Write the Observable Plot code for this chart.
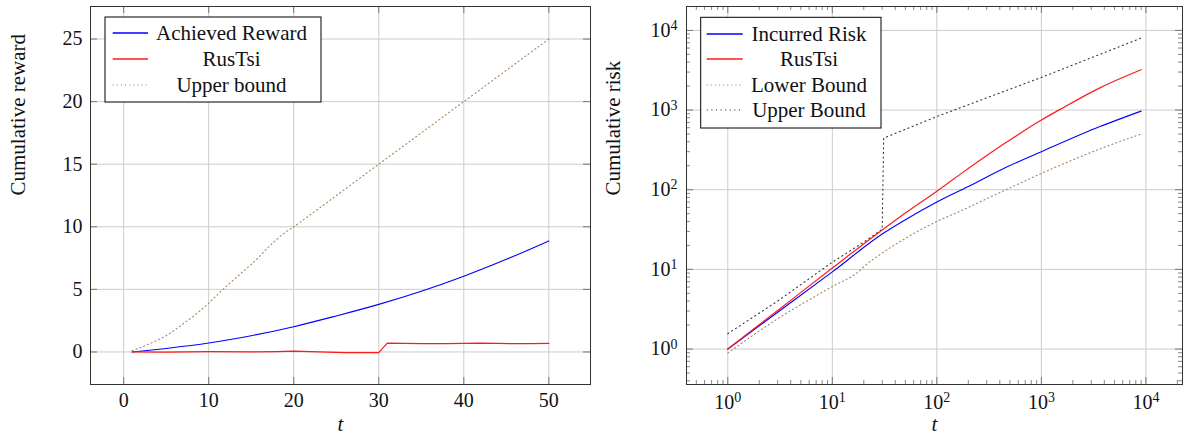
<!DOCTYPE html>
<html><head><meta charset="utf-8">
<script src="https://cdn.jsdelivr.net/npm/d3@7"></script>
<script src="https://cdn.jsdelivr.net/npm/@observablehq/plot@0.6"></script>
<style>
body{margin:0;background:#fff;}
#wrap{display:flex;width:1184px;height:439px;overflow:hidden;}
#wrap svg{display:block;flex:none;}
</style></head><body><div id="wrap"></div>
<script>
// ---------- Left panel: cumulative reward ----------
const achievedT      = [1, 5, 10, 15, 20, 25, 30, 35, 40, 45, 50];
const achievedReward = [0, 0.28, 0.71, 1.3, 2.02, 2.88, 3.8, 4.85, 6.05, 7.4, 8.87];

const rusTsiRewardT = [1, 5, 10, 15, 18, 20, 22, 24, 26, 28, 30, 31, 33, 35, 38, 40, 42, 44, 46, 48, 50];
const rusTsiReward  = [0, -0.01, 0.02, 0.0, 0.02, 0.06, 0.02, -0.02, -0.06, -0.05, -0.06, 0.7, 0.68, 0.66, 0.66, 0.69, 0.71, 0.68, 0.66, 0.67, 0.68];

const upperRewardT = [1, 2, 3, 4, 5, 6, 7, 8, 9, 10, 11, 12, 13, 14, 15, 16, 17, 18, 19, 20, 30, 40, 50];
const upperReward  = [0.1, 0.35, 0.65, 0.95, 1.3, 1.75, 2.25, 2.75, 3.3, 3.9, 4.55, 5.2, 5.8, 6.4, 7.0, 7.65, 8.35, 9.0, 9.55, 10.0, 15.0, 20.0, 25.0];

const leftXTicks = [0, 10, 20, 30, 40, 50];
const leftYTicks = [0, 5, 10, 15, 20, 25];
const leftLegend = ["Achieved Reward", "RusTsi", "Upper bound"];

// ---------- Right panel: cumulative risk (log-log) ----------
const incurredT    = [1, 3, 10, 30, 50, 100, 200, 436, 1000, 3630, 9000];
const incurredRisk = [1, 2.9, 9.3, 27.8, 42, 70, 110, 185, 300, 620, 970];

const rusTsiRiskT = [1, 3, 10, 30, 50, 100, 168, 436, 1000, 1510, 3630, 9000];
const rusTsiRisk  = [1, 3.05, 10.4, 31.2, 51, 96, 157, 374, 750, 1020, 1900, 3200];

const lowerT    = [1, 3, 10, 18, 20, 30, 50, 100, 168, 436, 1000, 3630, 9000];
const lowerRisk = [0.89, 2.4, 6.1, 9.5, 10.8, 16, 24.5, 40, 54, 97, 160, 325, 500];

const upperRiskT = [1, 3, 10, 20, 30, 31, 100, 1000, 9000];
const upperRisk  = [1.56, 4.0, 12.3, 22, 32, 444, 830, 2570, 8000];

const rightXTicks = [1, 10, 100, 1000, 10000];
const rightYTicks = [1, 10, 100, 1000, 10000];
const rightTickLabels = ["10^0", "10^1", "10^2", "10^3", "10^4"];
const rightLegend = ["Incurred Risk", "RusTsi", "Lower Bound", "Upper Bound"];

// ---------- styling ----------
const FONT = "'Liberation Serif', 'DejaVu Serif', serif";
const STYLE = `font-family: ${FONT}; font-size: 20px; background: white; color: #111;`;
const BLUE = "#0000ff", RED = "#ff1a1a", BROWN = "#a8835f", DARK = "#333333", GRID = "#cccccc";
const W = 592, H = 439, MT = 6, MB = 55;
const toRows = (T, V) => T.map((t, i) => ({t, v: V[i]}));

function minorTicks(lo, hi) {
  const out = [];
  for (let e = -1; e <= 4; e++) for (let m = 2; m <= 9; m++) {
    const v = m * Math.pow(10, e);
    if (v > lo && v < hi) out.push(v);
  }
  return out;
}

function tickMarks(xs, ys, fw, fh, len, stroke) {
  return [
    Plot.ruleX(xs, {insetTop: fh - len, stroke}),
    Plot.ruleX(xs, {insetBottom: fh - len, stroke}),
    Plot.ruleY(ys, {insetRight: fw - len, stroke}),
    Plot.ruleY(ys, {insetLeft: fw - len, stroke})
  ];
}

function legend(svg, box, labels, styles) {
  const g = d3.select(svg).append("g").attr("font-family", FONT).attr("font-size", 21);
  g.append("rect").attr("x", box.x).attr("y", box.y).attr("width", box.w).attr("height", box.h)
    .attr("fill", "white").attr("stroke", "black").attr("stroke-width", 1);
  labels.forEach((lab, i) => {
    const y = Math.floor(box.y + box.first + i * box.step);
    const ln = g.append("line").attr("x1", box.lx1).attr("x2", box.lx2).attr("y1", y).attr("y2", y)
      .attr("stroke", styles[i].stroke).attr("stroke-width", styles[i].dash ? 1.2 : 1.7);
    if (styles[i].dash) ln.attr("stroke-dasharray", styles[i].dash);
    g.append("text").attr("x", box.tx).attr("y", y + 7).attr("text-anchor", "middle")
      .attr("fill", "#111").text(lab);
  });
}

function superscripts(svg) {
  d3.select(svg).selectAll("text").each(function () {
    const m = /^10\^(-?\d+)$/.exec(this.textContent);
    if (m) {
      const el = d3.select(this);
      el.text("10");
      el.append("tspan").attr("dy", "-0.48em").attr("font-size", "0.7em").text(m[1]);
    }
  });
}

// ---------- left plot ----------
const LML = 90, LMR = 2;
const LFW = W - LML - LMR, LFH = H - MT - MB;
const left = Plot.plot({
  width: W, height: H,
  marginLeft: LML, marginRight: LMR, marginTop: MT, marginBottom: MB,
  style: STYLE,
  x: {domain: [-3.9, 54.9], label: null},
  y: {domain: [-2.6, 27.6], label: null},
  marks: [
    Plot.gridX(leftXTicks, {stroke: GRID, strokeOpacity: 1}),
    Plot.gridY(leftYTicks, {stroke: GRID, strokeOpacity: 1}),
    ...tickMarks(leftXTicks, leftYTicks, LFW, LFH, 7, "#777"),
    Plot.axisX(leftXTicks, {tickSize: 0, tickPadding: 8, label: null, fontSize: 20}),
    Plot.axisY(leftYTicks, {tickSize: 0, tickPadding: 8, label: null, fontSize: 20}),
    Plot.line(toRows(upperRewardT, upperReward), {x: "t", y: "v", stroke: BROWN, strokeWidth: 1.1, strokeDasharray: "1.1,3", curve: "catmull-rom"}),
    Plot.line(toRows(achievedT, achievedReward), {x: "t", y: "v", stroke: BLUE, strokeWidth: 1.1, curve: "catmull-rom"}),
    Plot.line(toRows(rusTsiRewardT, rusTsiReward), {x: "t", y: "v", stroke: RED, strokeWidth: 1.2}),
    Plot.frame({stroke: DARK, strokeWidth: 1}),
    Plot.text(["Cumulative reward"], {frameAnchor: "left", rotate: -90, dx: -72, fontSize: 21, fill: "#111"}),
    Plot.text(["t"], {frameAnchor: "bottom", dy: 46, fontSize: 21, fontStyle: "italic", fill: "#111"})
  ]
});
legend(left, {x: 105, y: 17, w: 216, h: 85, first: 16.3, step: 26.2, lx1: 112.7, lx2: 148, tx: 231.5},
  leftLegend, [{stroke: BLUE}, {stroke: RED}, {stroke: BROWN, dash: "1.1,3"}]);

// ---------- right plot ----------
const RML = 94, RMR = 2;
const RFW = W - RML - RMR, RFH = H - MT - MB;
const xDom = [Math.pow(10, -0.395), Math.pow(10, 4.35)];
const yDom = [Math.pow(10, -0.445), Math.pow(10, 4.3)];
const fmt = d => rightTickLabels[rightXTicks.indexOf(d)];
const right = Plot.plot({
  width: W, height: H,
  marginLeft: RML, marginRight: RMR, marginTop: MT, marginBottom: MB,
  style: STYLE,
  x: {type: "log", domain: xDom, label: null},
  y: {type: "log", domain: yDom, label: null},
  marks: [
    Plot.gridX(rightXTicks, {stroke: GRID, strokeOpacity: 1}),
    Plot.gridY(rightYTicks, {stroke: GRID, strokeOpacity: 1}),
    ...tickMarks(rightXTicks, rightYTicks, RFW, RFH, 7, "#777"),
    ...tickMarks(minorTicks(xDom[0], xDom[1]), minorTicks(yDom[0], yDom[1]), RFW, RFH, 4, "#888"),
    Plot.axisX(rightXTicks, {tickSize: 0, tickPadding: 10, tickFormat: fmt, label: null, fontSize: 20}),
    Plot.axisY(rightYTicks, {tickSize: 0, tickPadding: 9, tickFormat: fmt, label: null, fontSize: 20}),
    Plot.line(toRows(lowerT, lowerRisk), {x: "t", y: "v", stroke: BROWN, strokeWidth: 1.1, strokeDasharray: "1.1,3", curve: "monotone-x"}),
    Plot.line(toRows(upperRiskT, upperRisk), {x: "t", y: "v", stroke: DARK, strokeWidth: 1.1, strokeDasharray: "1.1,3.5"}),
    Plot.line(toRows(incurredT, incurredRisk), {x: "t", y: "v", stroke: BLUE, strokeWidth: 1.1, curve: "monotone-x"}),
    Plot.line(toRows(rusTsiRiskT, rusTsiRisk), {x: "t", y: "v", stroke: RED, strokeWidth: 1.2, curve: "monotone-x"}),
    Plot.frame({stroke: DARK, strokeWidth: 1}),
    Plot.text(["Cumulative risk"], {frameAnchor: "left", rotate: -90, dx: -73, fontSize: 21, fill: "#111"}),
    Plot.text(["t"], {frameAnchor: "bottom", dy: 46, fontSize: 21, fontStyle: "italic", fill: "#111"})
  ]
});
superscripts(right);
legend(right, {x: 108.7, y: 17.3, w: 180.3, h: 110.7, first: 17, step: 25.5, lx1: 114.7, lx2: 150.7, tx: 217},
  rightLegend, [{stroke: BLUE}, {stroke: RED}, {stroke: BROWN, dash: "1.1,3"}, {stroke: DARK, dash: "1.1,3.5"}]);

document.getElementById("wrap").append(left, right);
</script>
</body></html>
